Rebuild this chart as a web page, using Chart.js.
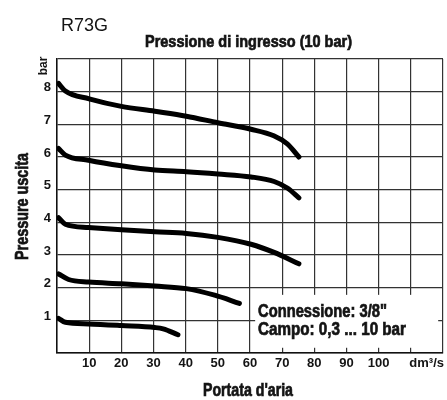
<!DOCTYPE html>
<html>
<head>
<meta charset="utf-8">
<script src="https://cdn.jsdelivr.net/npm/chart.js@4.4.0/dist/chart.umd.min.js"></script>
<style>
  html, body { margin: 0; padding: 0; background: #fff; }
  #wrap { width: 447px; height: 400px; }
</style>
</head>
<body>
<div id="wrap"><canvas id="chart"></canvas></div>
<script>
    // curve data (flow dm3/s, outlet pressure bar)
    const flow8 = [0.5, 2.6, 10, 20, 30.4, 40.2, 50, 60.3, 67.4, 71.6, 75.2];
    const press8 = [8.25, 8.02, 7.78, 7.55, 7.4, 7.25, 7.05, 6.85, 6.65, 6.4, 6.0];

    const flow6 = [0.5, 2.6, 9.8, 20, 30.4, 40.2, 50, 60.3, 67.5, 71.6, 75.2];
    const press6 = [6.26, 6.06, 5.9, 5.73, 5.6, 5.55, 5.48, 5.39, 5.25, 5.05, 4.75];

    const flow4 = [0.5, 2.6, 9.8, 20, 30.4, 40.2, 50, 60.3, 67.5, 75.2];
    const press4 = [4.14, 3.94, 3.84, 3.77, 3.71, 3.66, 3.54, 3.33, 3.08, 2.73];

    const flow2 = [0.5, 3.6, 9.8, 20, 30.4, 40.2, 49, 56.7];
    const press2 = [2.42, 2.25, 2.17, 2.12, 2.05, 1.97, 1.77, 1.52];

    const flow1 = [0.5, 2.6, 9.8, 20, 30.4, 33, 37.6];
    const press1 = [1.06, 0.94, 0.89, 0.84, 0.78, 0.74, 0.56];

    const xTickLabels = [10, 20, 30, 40, 50, 60, 70, 80, 90, 100];
    const yTickLabels = [1, 2, 3, 4, 5, 6, 7, 8];

    const plain = '"Liberation Sans", Arial, sans-serif';

    function toPoints(xs, ys) {
        return xs.map((x, i) => ({ x: x, y: ys[i] }));
    }

    function curve(xs, ys) {
        return {
            data: toPoints(xs, ys),
            borderColor: '#000',
            borderWidth: 5,
            pointRadius: 0,
            cubicInterpolationMode: 'monotone',
            borderCapStyle: 'round',
            fill: false
        };
    }

    // the original uses a condensed face, so squeeze the text to its width
    function narrowText(ctx, text, font, width, x, y, align, rotated, heavy) {
        ctx.save();
        ctx.translate(x, y);
        if (rotated) ctx.rotate(-Math.PI / 2);
        ctx.font = font;
        const w = ctx.measureText(text).width;
        ctx.scale(width / w, 1);
        ctx.textAlign = align;
        ctx.textBaseline = 'alphabetic';
        ctx.fillText(text, 0, 0);
        if (heavy) {
            ctx.lineWidth = 0.7;
            ctx.strokeStyle = ctx.fillStyle;
            ctx.strokeText(text, 0, 0);
        }
        ctx.restore();
    }

    const extraText = {
        id: 'extraText',
        beforeDatasetsDraw(chart) {
            const { ctx, scales: { x, y } } = chart;
            // white info box hides the grid
            const left = x.getPixelForValue(61.6);
            const right = x.getPixelForValue(118.5);
            const top = y.getPixelForValue(1.78);
            const bottom = y.getPixelForValue(0.16);
            ctx.save();
            ctx.fillStyle = '#fff';
            ctx.fillRect(left, top, right - left, bottom - top);
            ctx.restore();
        },
        afterDraw(chart) {
            const { ctx, chartArea } = chart;
            ctx.save();
            ctx.fillStyle = '#141414';

            const bold18 = 'bold 18px ' + plain;
            narrowText(ctx, 'R73G', '19px ' + plain, 47, 61, 31, 'left');
            narrowText(ctx, 'Pressione di ingresso (10 bar)', 'bold 16.5px ' + plain, 207, 248.5, 46.5, 'center', false, true);
            narrowText(ctx, 'Pressure uscita', bold18, 107, 28, 206.5, 'center', true, true);
            narrowText(ctx, "Portata d'aria", bold18, 90, 248, 396, 'center', false, true);
            narrowText(ctx, 'Connessione: 3/8"', bold18, 129, 258, 317, 'left', false, true);
            narrowText(ctx, 'Campo: 0,3 ... 10 bar', bold18, 148, 258, 335, 'left', false, true);

            ctx.font = 'bold 13px ' + plain;
            ctx.textAlign = 'right';
            ctx.textBaseline = 'top';
            ctx.fillText('dm\u00b3/s', chartArea.right + 1, chartArea.bottom + 4);

            ctx.translate(44, 66);
            ctx.rotate(-Math.PI / 2);
            ctx.font = 'bold 12px ' + plain;
            ctx.textAlign = 'center';
            ctx.textBaseline = 'middle';
            ctx.fillText('bar', 0, 0);
            ctx.restore();
        }
    };

    new Chart(document.getElementById('chart'), {
        type: 'line',
        data: {
            datasets: [
                curve(flow8, press8),
                curve(flow6, press6),
                curve(flow4, press4),
                curve(flow2, press2),
                curve(flow1, press1)
            ]
        },
        options: {
            responsive: true,
            maintainAspectRatio: false,
            animation: false,
            layout: { padding: { top: 59, left: 0, right: 4, bottom: 0 } },
            plugins: {
                legend: { display: false },
                tooltip: { enabled: false },
                title: { display: false }
            },
            scales: {
                x: {
                    type: 'linear',
                    min: 0,
                    max: 120,
                    afterFit(scale) { scale.height = 47; },
                    ticks: {
                        stepSize: 10,
                        autoSkip: false,
                        maxRotation: 0,
                        padding: 3,
                        color: '#141414',
                        font: { family: plain, size: 13, weight: 'bold' },
                        callback: v => xTickLabels.includes(v) ? String(v) : ''
                    },
                    grid: { color: '#333', lineWidth: 1.2, drawTicks: false },
                    border: { color: '#111', width: 1.5 }
                },
                y: {
                    min: 0,
                    max: 9,
                    afterFit(scale) { scale.width = 57; },
                    ticks: {
                        stepSize: 1,
                        padding: 6,
                        labelOffset: -4,
                        color: '#141414',
                        font: { family: plain, size: 13, weight: 'bold' },
                        callback: v => yTickLabels.includes(v) ? String(v) : ''
                    },
                    grid: { color: '#333', lineWidth: 1.2, drawTicks: false },
                    border: { color: '#111', width: 1.5 }
                }
            }
        },
        plugins: [extraText]
    });
</script>
</body>
</html>
